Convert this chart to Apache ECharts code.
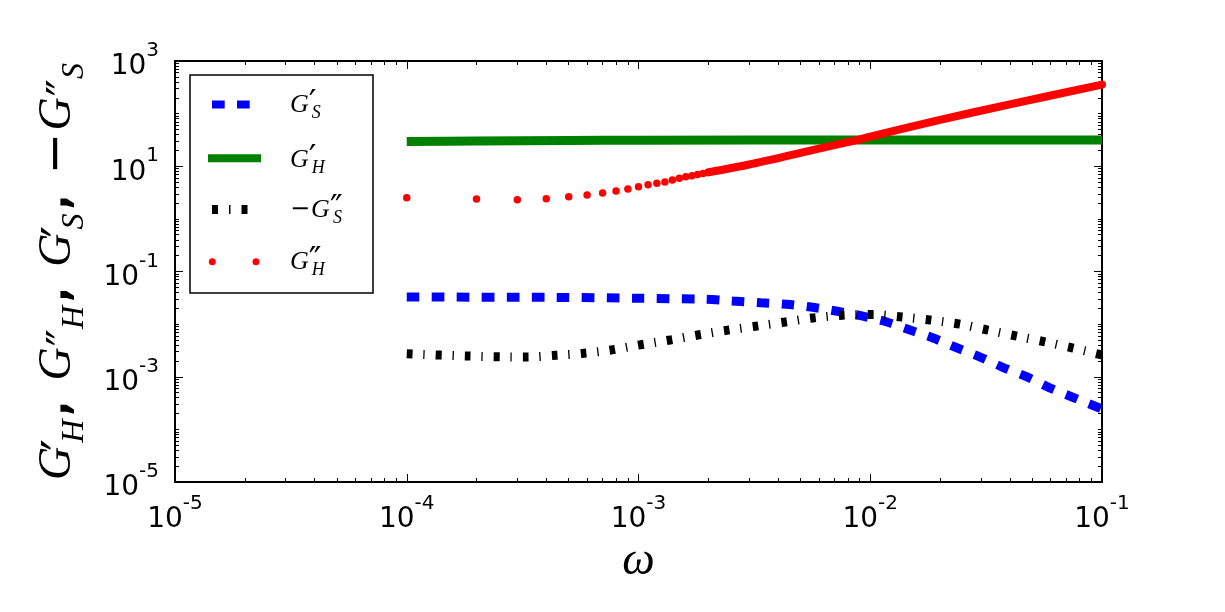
<!DOCTYPE html>
<html>
<head>
<meta charset="utf-8">
<script src="https://cdn.jsdelivr.net/npm/echarts@6/dist/echarts.min.js"></script>
<style>
html, body { margin: 0; padding: 0; background: #fff; }
#chart { width: 1225px; height: 612px; }
</style>
</head>
<body>
<div id="chart"></div>
<script>
// G'_S (blue dashed)
const gsOmega = [1e-4, 4.4e-4, 1e-3, 1.96e-3, 2.55e-3, 3.37e-3, 4.35e-3, 5.55e-3, 7.1e-3, 9.2e-3, 0.0117, 0.01485, 0.01867, 0.0232, 0.0298, 0.0371, 0.0475, 0.0585, 0.0743, 0.1];
const gsVals = [0.0327, 0.0322, 0.031, 0.0296, 0.0275, 0.0255, 0.0238, 0.0211, 0.0178, 0.0143, 0.0111, 7.73e-3, 5.44e-3, 3.67e-3, 2.37e-3, 1.53e-3, 9.9e-4, 6.38e-4, 4.12e-4, 2.44e-4];

// G'_H (green solid)
const ghOmega = [1e-4, 2e-4, 5e-4, 1e-3, 1e-2, 1e-1];
const ghVals = [29.5, 30.3, 31.0, 31.3, 31.5, 31.6];

// -G''_S (black dash-dot)
const gssOmega = [1e-4, 1.8e-4, 3.3e-4, 4.4e-4, 5.8e-4, 7.6e-4, 1e-3, 1.37e-3, 1.8e-3, 2.43e-3, 3.25e-3, 4.3e-3, 5.66e-3, 7.6e-3, 0.0103, 0.0137, 0.0181, 0.0244, 0.0322, 0.043, 0.0568, 0.075, 0.1];
const gssVals = [2.74e-3, 2.48e-3, 2.37e-3, 2.56e-3, 2.79e-3, 3.22e-3, 4.0e-3, 5.0e-3, 6.2e-3, 7.7e-3, 9.2e-3, 0.011, 0.0131, 0.0148, 0.0152, 0.0137, 0.012, 0.01, 7.7e-3, 5.9e-3, 4.6e-3, 3.5e-3, 2.6e-3];

// G''_H (red dots): sparse points, then the dense stretch where dots merge
const ghhOmega = [1e-4, 2e-4, 3e-4, 4e-4, 5e-4, 6e-4, 7e-4, 8e-4, 9e-4, 1e-3, 1.1e-3, 1.2e-3, 1.3e-3, 1.4e-3, 1.5e-3, 1.6e-3, 1.7e-3, 1.8e-3, 1.9e-3, 2e-3];
const ghhVals = [2.53, 2.39, 2.31, 2.42, 2.64, 2.84, 3.10, 3.39, 3.70, 4.09, 4.46, 4.74, 5.0, 5.48, 5.9, 6.3, 6.6, 6.95, 7.3, 7.65];
const ghhDenseOmega = [2e-3, 3e-3, 5e-3, 8.75e-3, 1e-2, 2e-2, 4e-2, 1e-1];
const ghhDenseVals = [7.65, 10.8, 18, 31.5, 36.5, 76, 150, 355];

// tick decades
const xExps = [-5, -4, -3, -2, -1];
const yExps = [-5, -3, -1, 1, 3];

const pairs = (xs, ys) => xs.map((x, i) => [x, ys[i]]);
const xMajor = xExps.map(e => Math.pow(10, e));
const yMajor = yExps.map(e => Math.pow(10, e));
const xMinor = [];
for (let d = -5; d < -1; d++) for (let k = 2; k <= 9; k++) xMinor.push(k * Math.pow(10, d));
const yMinor = [];
for (let d = -5; d < 3; d++) for (let k = 1; k <= 9; k++) {
  if (k === 1 && yExps.indexOf(d) >= 0) continue;
  yMinor.push(k * Math.pow(10, d));
}

const XMIN = 1e-5, XMAX = 1e-1, YMIN = 1e-5, YMAX = 1e3;
const tickRich = {
  b: { fontFamily: 'DejaVu Sans', fontSize: 28, lineHeight: 40, verticalAlign: 'bottom', color: '#000' },
  e: { fontFamily: 'DejaVu Sans', fontSize: 20, lineHeight: 6, verticalAlign: 'top', color: '#000' }
};
const powLabel = v => '{b|10}{e|' + Math.round(Math.log10(v)) + '}';
const frameLine = { show: true, onZero: false, lineStyle: { color: '#000', width: 2 } };

function xAx(pos, ticks, len, label, line) {
  return {
    type: 'log', logBase: 10, min: XMIN, max: XMAX, position: pos,
    axisLine: line ? frameLine : { show: false },
    axisTick: { show: true, inside: true, length: len, customValues: ticks, lineStyle: { color: '#000', width: 1 } },
    axisLabel: label ? { show: true, customValues: ticks, formatter: powLabel, rich: tickRich, margin: 12 } : { show: false },
    splitLine: { show: false }, minorTick: { show: false }
  };
}
function yAx(pos, ticks, len, label, line) {
  return {
    type: 'log', logBase: 10, min: YMIN, max: YMAX, position: pos,
    axisLine: line ? frameLine : { show: false },
    axisTick: { show: true, inside: true, length: len, customValues: ticks, lineStyle: { color: '#000', width: 1 } },
    axisLabel: label ? { show: true, customValues: ticks, formatter: powLabel, rich: tickRich, margin: 16 } : { show: false },
    splitLine: { show: false }, minorTick: { show: false }
  };
}

const xAxes = [
  xAx('bottom', xMajor, 8, true, true),
  xAx('bottom', xMinor, 4, false, false),
  xAx('top', xMajor, 8, false, true),
  xAx('top', xMinor, 4, false, false)
];
Object.assign(xAxes[0], {
  name: 'ω', nameLocation: 'middle', nameGap: 52,
  nameTextStyle: { fontFamily: 'Liberation Serif', fontStyle: 'italic', fontSize: 46, color: '#000' }
});
const yAxes = [
  yAx('left', yMajor, 8, true, true),
  yAx('left', yMinor, 4, false, false),
  yAx('right', yMajor, 8, false, true),
  yAx('right', yMinor, 4, false, false)
];
const serif = 'Liberation Serif';
Object.assign(yAxes[0], {
  name: '{g|G}{p|′}{h|H}{c|,}{g|G}{q|″}{h|H}{c|,}{g|G}{p|′}{h|S}{c|,}{m|−}{g|G}{q|″}{h|S}',
  nameLocation: 'middle', nameRotate: 90, nameGap: 84,
  nameTextStyle: {
    rich: {
      g: { fontFamily: serif, fontStyle: 'italic', fontSize: 46, lineHeight: 66, verticalAlign: 'middle', color: '#000' },
      p: { fontFamily: 'DejaVu Sans', fontSize: 52, lineHeight: 58, verticalAlign: 'bottom', width: 4, color: '#000' },
      q: { fontFamily: 'DejaVu Sans', fontSize: 46, lineHeight: 58, verticalAlign: 'bottom', padding: [0, 0, 0, 1], color: '#000' },
      h: { fontFamily: serif, fontStyle: 'italic', fontSize: 32, lineHeight: 22, verticalAlign: 'bottom', color: '#000' },
      c: { fontFamily: 'DejaVu Sans', fontWeight: 'bold', fontSize: 40, lineHeight: 66, verticalAlign: 'middle', padding: [0, 20, 0, 4], color: '#000' },
      m: { fontFamily: 'DejaVu Sans', fontSize: 50, lineHeight: 66, verticalAlign: 'middle', padding: [0, 2, 0, 0], color: '#000' }
    }
  }
});

const legRich = {
  g: { fontFamily: serif, fontStyle: 'italic', fontSize: 26, lineHeight: 34, verticalAlign: 'middle', fill: '#000' },
  p: { fontFamily: 'DejaVu Sans', fontSize: 34, lineHeight: 26, verticalAlign: 'bottom', width: 3, fill: '#000' },
  s: { fontFamily: serif, fontStyle: 'italic', fontSize: 18, lineHeight: 12, verticalAlign: 'bottom', fill: '#000' },
  m: { fontFamily: 'DejaVu Sans', fontSize: 24, lineHeight: 34, verticalAlign: 'middle', padding: [0, 1, 0, 0], fill: '#000' }
};
const legLabel = (txt, y) => ({
  type: 'text', left: 290, top: y - 17, z: 101,
  style: { text: txt, rich: legRich, fill: '#000' }
});

const chart = echarts.init(document.getElementById('chart'), null, { renderer: 'canvas' });
chart.setOption({
  backgroundColor: '#fff',
  animation: false,
  grid: { left: 175, right: 123, top: 61, bottom: 130, containLabel: false, outerBoundsMode: 'none' },
  xAxis: xAxes,
  yAxis: yAxes,
  series: [
    {
      name: "G'_S", type: 'line', data: pairs(gsOmega, gsVals), smooth: 0.3, symbol: 'none',
      lineStyle: { color: '#0000ff', width: 9, type: [12.7, 12.3], cap: 'butt' }
    },
    {
      name: "G'_H", type: 'line', data: pairs(ghOmega, ghVals), smooth: 0.3, symbol: 'none',
      lineStyle: { color: '#008000', width: 9 }
    },
    {
      name: "-G''_S", type: 'line', data: pairs(gssOmega, gssVals), smooth: 0.3, symbol: 'none',
      lineStyle: { color: '#000', width: 9, type: [6, 10.7, 1.3, 11], cap: 'butt' }
    },
    {
      name: "G''_H", type: 'scatter', data: pairs(ghhOmega, ghhVals), symbol: 'circle', symbolSize: 7.5,
      itemStyle: { color: '#ff0000', opacity: 1 }
    },
    {
      name: "G''_H dense", type: 'line', data: pairs(ghhDenseOmega, ghhDenseVals), smooth: 0.3, symbol: 'none',
      lineStyle: { color: '#ff0000', width: 8, cap: 'round' }
    }
  ],
  graphic: [
    { type: 'rect', shape: { x: 190, y: 75, width: 183, height: 218 }, z: 100,
      style: { fill: '#fff', stroke: '#000', lineWidth: 1.5 } },
    { type: 'rect', shape: { x: 212, y: 100.5, width: 12.7, height: 8 }, z: 101, style: { fill: '#0000ff' } },
    { type: 'rect', shape: { x: 237, y: 100.5, width: 12.7, height: 8 }, z: 101, style: { fill: '#0000ff' } },
    { type: 'rect', shape: { x: 208, y: 154.3, width: 53, height: 8 }, z: 101, style: { fill: '#008000' } },
    { type: 'rect', shape: { x: 212, y: 205, width: 6, height: 9 }, z: 101, style: { fill: '#000' } },
    { type: 'rect', shape: { x: 229, y: 205, width: 1.5, height: 9 }, z: 101, style: { fill: '#000' } },
    { type: 'rect', shape: { x: 241.5, y: 205, width: 6, height: 9 }, z: 101, style: { fill: '#000' } },
    { type: 'circle', shape: { cx: 212.3, cy: 261.7, r: 3.5 }, z: 101, style: { fill: '#ff0000' } },
    { type: 'circle', shape: { cx: 256, cy: 261.7, r: 3.5 }, z: 101, style: { fill: '#ff0000' } },
    legLabel('{g|G}{p|′}{s|S}', 105.5),
    legLabel('{g|G}{p|′}{s|H}', 160),
    legLabel('{m|−}{g|G}{p|″}{s|S}', 210),
    legLabel('{g|G}{p|″}{s|H}', 262)
  ]
});
</script>
</body>
</html>
